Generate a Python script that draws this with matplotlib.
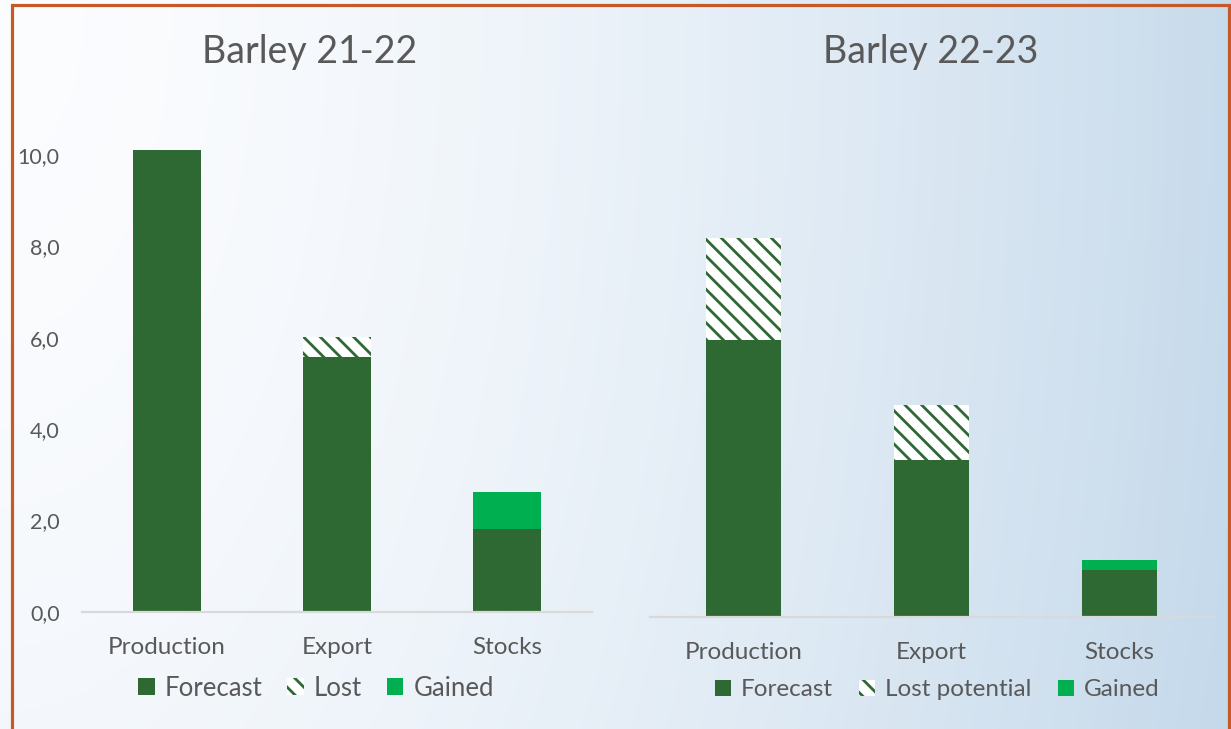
import numpy as np
import matplotlib.pyplot as plt
from matplotlib.patches import Patch, Rectangle

plt.rcParams['font.family'] = ['Lato', 'DejaVu Sans']
plt.rcParams['hatch.linewidth'] = 2.0

# Data (million tonnes)
categories = ['Production', 'Export', 'Stocks']

forecast_2122 = [10.1, 5.58, 1.81]
lost_2122 = [0.0, 0.44, 0.0]
gained_2122 = [0.0, 0.0, 0.81]

forecast_2223 = [6.06, 3.43, 1.03]
lost_2223 = [2.23, 1.20, 0.0]
gained_2223 = [0.0, 0.0, 0.22]

y_ticks = [0, 2, 4, 6, 8, 10]
y_tick_labels = ['0,0', '2,0', '4,0', '6,0', '8,0', '10,0']

# Colours
dark_green = '#2e6934'
light_green = '#00b050'
text_col = '#595959'
axis_col = '#d9d9d9'

W, H = 1231, 729
fig = plt.figure(figsize=(W / 100, H / 100), dpi=100)

# gradient background
bg = fig.add_axes([0, 0, 1, 1], zorder=-10)
xx, yy = np.meshgrid(np.linspace(0, 1, 400), np.linspace(0, 1, 240))
r = np.sqrt(xx ** 2 + (0.3 * yy) ** 2) / np.sqrt(1.09)
t = np.clip(r, 0, 1) ** 1.6
c0 = np.array([0.985, 0.99, 0.998])
c1 = np.array([0.77, 0.85, 0.92])
bg.imshow(c0 + (c1 - c0) * t[..., None], extent=[0, 1, 0, 1], aspect='auto', origin='upper')
bg.axis('off')

# orange frame
fig.patches.append(Rectangle((11.7 / W, -0.02), (1229 - 11.7) / W, 1.02 - 5.3 / H,
                             transform=fig.transFigure, fill=False,
                             edgecolor='#c55a28', linewidth=2.3))


def fx(px):
    return px / W


def fy(px):
    return 1 - px / H


def panel(rect, forecast, lost, gained):
    ax = fig.add_axes(rect)
    ax.set_facecolor('none')
    x = np.arange(len(categories))
    forecast = np.array(forecast)
    lost = np.array(lost)
    gained = np.array(gained)
    ax.bar(x, forecast, width=0.4, color=dark_green, linewidth=0)
    ax.bar(x, lost, width=0.4, bottom=forecast, facecolor='white',
           edgecolor=dark_green, hatch='\\\\', linewidth=0)
    ax.bar(x, gained, width=0.4, bottom=forecast + lost, color=light_green, linewidth=0)
    ax.set_xlim(-0.5, 2.5)
    ax.set_ylim(0, 12)
    ax.set_xticks(x, categories)
    for s in ['top', 'right', 'left']:
        ax.spines[s].set_visible(False)
    ax.spines['bottom'].set_color(axis_col)
    ax.spines['bottom'].set_linewidth(1.6)
    ax.tick_params(axis='x', length=0, pad=18.5, labelsize=17.5, labelcolor=text_col)
    return ax


ax1 = panel([fx(82), fy(611.7), fx(592) - fx(82), 548 / H],
            forecast_2122, lost_2122, gained_2122)
ax1.set_yticks(y_ticks, y_tick_labels)
ax1.tick_params(axis='y', length=0, pad=16, labelsize=15.5, labelcolor=text_col)

ax2 = panel([fx(650), fy(616.7), fx(1213) - fx(650), 548 / H],
            forecast_2223, lost_2223, gained_2223)
ax2.set_yticks([])

# titles
fig.text(fx(310), fy(63), 'Barley 21-22', ha='center', va='baseline',
         fontsize=27, color=text_col)
fig.text(fx(931), fy(63), 'Barley 22-23', ha='center', va='baseline',
         fontsize=27, color=text_col)

# legends
def handles(lost_label):
    h = [Patch(facecolor=dark_green, linewidth=0),
         Patch(facecolor='white', edgecolor=dark_green, hatch='\\\\', linewidth=0),
         Patch(facecolor=light_green, linewidth=0)]
    return h, ['Forecast', lost_label, 'Gained']


h, l = handles('Lost')
leg1 = fig.legend(h, l, loc='center', bbox_to_anchor=(fx(316), fy(688)), ncol=3,
                  frameon=False, fontsize=18.5, handlelength=0.65, handleheight=0.65,
                  handletextpad=0.4, columnspacing=0.95, labelcolor=text_col)
h, l = handles('Lost potential')
leg2 = fig.legend(h, l, loc='center', bbox_to_anchor=(fx(937), fy(690)), ncol=3,
                  frameon=False, fontsize=17.5, handlelength=0.65, handleheight=0.65,
                  handletextpad=0.4, columnspacing=1.1, labelcolor=text_col)

fig.savefig('out.png', dpi=100)
